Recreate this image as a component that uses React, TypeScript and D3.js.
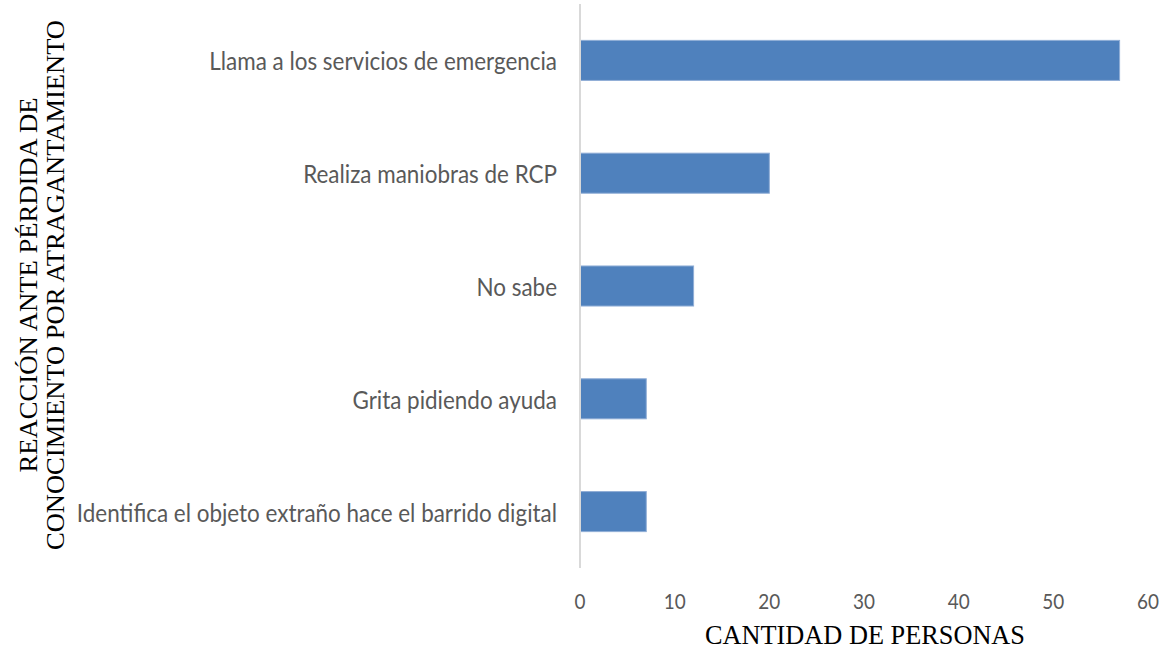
import React from 'react';
import { scaleBand, scaleLinear } from 'd3';

const categories = [
  'Llama a los servicios de emergencia',
  'Realiza maniobras de RCP',
  'No sabe',
  'Grita pidiendo ayuda',
  'Identifica el objeto extraño hace el barrido digital',
];
const values = [57, 20, 12, 7, 7];
const xTicks = [0, 10, 20, 30, 40, 50, 60];
const yTitleLines = ['REACCIÓN ANTE PÉRDIDA DE', 'CONOCIMIENTO POR ATRAGANTAMIENTO'];
const xTitle = 'CANTIDAD DE PERSONAS';

const W = 1169;
const H = 651;
const left = 580;
const right = 1148;
const top = 4;
const bottom = 568;
// the source picture looks squeezed horizontally
const sx = 0.88;

const App = () => {
  const x = scaleLinear().domain([0, 60]).range([left, right]);
  const y = scaleBand<string>()
    .domain(categories)
    .range([top, bottom])
    .paddingInner(0.645)
    .paddingOuter(0.3225);

  const labelFont = 'Lato, "Open Sans", sans-serif';
  const serif = '"Liberation Serif", "Times New Roman", serif';

  return (
    <svg width={W} height={H} style={{ position: 'absolute', left: 0, top: 0 }}>
      <rect width={W} height={H} fill="#fff" />
      {categories.map((c, i) => (
        <g key={c}>
          <rect
            x={x(0)}
            y={y(c)}
            width={x(values[i]) - x(0)}
            height={y.bandwidth()}
            fill="#4F81BD"
            stroke="#8FADD6"
            strokeWidth={1}
          />
          <text
            transform={`translate(557,${(y(c) as number) + y.bandwidth() / 2}) scale(${sx},1)`}
            textAnchor="end"
            dominantBaseline="central"
            fontFamily={labelFont}
            fontSize={25.5}
            fill="#595959"
          >
            {c}
          </text>
        </g>
      ))}
      <line x1={x(0)} x2={x(0)} y1={top} y2={bottom} stroke="#D9D9D9" strokeWidth={2} />
      {xTicks.map(t => (
        <text
          key={t}
          transform={`translate(${x(t)},601) scale(${sx},1)`}
          textAnchor="middle"
          dominantBaseline="central"
          fontFamily={labelFont}
          fontSize={21.5}
          fill="#595959"
        >
          {t}
        </text>
      ))}
      <text
        x={865}
        y={635}
        textAnchor="middle"
        dominantBaseline="central"
        fontFamily={serif}
        fontSize={27}
        textLength={320}
        lengthAdjust="spacingAndGlyphs"
        fill="#000"
      >
        {xTitle}
      </text>
      {yTitleLines.map((l, i) => (
        <text
          key={l}
          transform={`translate(${29 + i * 27},285) scale(${sx},1) rotate(-90)`}
          textAnchor="middle"
          dominantBaseline="central"
          fontFamily={serif}
          fontSize={28}
          textLength={i === 0 ? 375 : 530}
          lengthAdjust="spacingAndGlyphs"
          fill="#000"
        >
          {l}
        </text>
      ))}
    </svg>
  );
};

export default App;
